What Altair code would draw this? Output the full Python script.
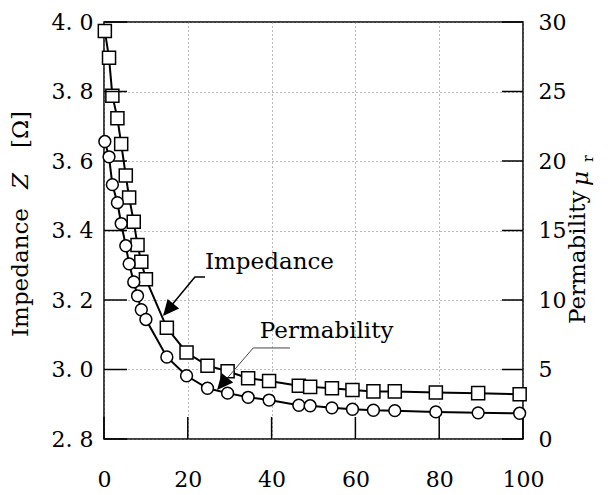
import altair as alt
import pandas as pd

# ---- data ----
x_vals = [0.2, 1.2, 2.0, 3.2, 4.1, 5.2, 6.0, 7.1, 8.0, 8.9, 10.0, 15.0, 19.7, 24.7,
          29.5, 34.4, 39.4, 46.5, 49.2, 54.4, 59.3, 64.3, 69.4, 79.2, 89.3, 99.2]
impedance = [3.974, 3.897, 3.788, 3.723, 3.649, 3.558, 3.495, 3.425, 3.358, 3.310,
             3.260, 3.120, 3.049, 3.011, 2.995, 2.975, 2.967, 2.953, 2.950, 2.946,
             2.941, 2.937, 2.937, 2.934, 2.932, 2.929]
permeability = [21.4, 20.3, 18.3, 17.0, 15.5, 13.9, 12.6, 11.3, 10.3, 9.3, 8.6, 5.9,
                4.55, 3.65, 3.3, 3.0, 2.8, 2.43, 2.39, 2.24, 2.14, 2.07, 2.04, 1.95,
                1.88, 1.85]

z_ticks = [2.8, 3.0, 3.2, 3.4, 3.6, 3.8, 4.0]
mu_ticks = [0, 5, 10, 15, 20, 25, 30]
x_ticks = [0, 20, 40, 60, 80, 100]

# annotations (data coordinates on the impedance scale)
ann_labels = ["Impedance", "Permability"]
ann_x = [24.1, 37.2]
ann_z = [3.289, 3.091]
imp_leader_x = [24.1, 21.7, 14.3]
imp_leader_z = [3.266, 3.266, 3.158]
per_leader_x = [44.4, 35.6, 27.2]
per_leader_z = [3.062, 3.062, 2.944]
arrow_x = [14.1, 27.0]
arrow_z = [3.154, 2.941]

# ---- layout / style ----
W, H = 419, 417
FONT = "DejaVu Serif"
ARROW = "M0,0L-0.47,-1L0.47,-1Z"

df = pd.DataFrame({"x": x_vals, "Z": impedance, "mu": permeability})

xscale = alt.Scale(domain=[0, 100], nice=False, zero=False)
zscale = alt.Scale(domain=[2.8, 4.0], nice=False, zero=False)
muscale = alt.Scale(domain=[0, 30], nice=False, zero=False)

x_axis = alt.Axis(values=x_ticks, format="d", tickSize=0, domain=False, grid=True,
                  gridColor="#777", gridDash=[1, 3], gridWidth=1,
                  labelFont=FONT, labelFontSize=22, labelColor="black",
                  labelPadding=30, labelFlush=False, labelOverlap=False, title=None)
z_axis = alt.Axis(values=z_ticks, orient="left", tickSize=0, domain=False, grid=True,
                  gridColor="#777", gridDash=[1, 3], gridWidth=1,
                  labelExpr="replace(format(datum.value, '.1f'), '.', '. ')",
                  labelFont=FONT, labelFontSize=22, labelColor="black",
                  labelPadding=11, labelOverlap=False, title=None)
mu_axis = alt.Axis(values=mu_ticks, orient="right", tickSize=0, domain=False, grid=False,
                   format="d", labelFont=FONT, labelFontSize=22, labelColor="black",
                   labelPadding=15, labelOverlap=False, title=None)

X = alt.X("x:Q", scale=xscale, axis=x_axis)
YZ = alt.Y("Z:Q", scale=zscale, axis=z_axis)
YM = alt.Y("mu:Q", scale=muscale, axis=mu_axis)

# impedance series
z_line = alt.Chart(df).mark_line(color="black", strokeWidth=2).encode(x=X, y=YZ)
z_pts = alt.Chart(df).mark_point(shape="square", size=170, filled=True, fill="white",
                                 stroke="black", strokeWidth=1.5, opacity=1).encode(x=X, y=YZ)

# inward ticks
z_tick_df = pd.DataFrame({"Z": z_ticks})
z_tick_rules = alt.Chart(z_tick_df).mark_rule(color="black", strokeWidth=1.5).encode(
    y=YZ, x=alt.value(0), x2=alt.value(23))
x_tick_df = pd.DataFrame({"x": x_ticks})
x_tick_rules = alt.Chart(x_tick_df).mark_rule(color="black", strokeWidth=1.5).encode(
    x=X, y=alt.value(H), y2=alt.value(H - 22))

# annotations
ann_df = pd.DataFrame({"x": ann_x, "Z": ann_z, "label": ann_labels})
ann_text = alt.Chart(ann_df).mark_text(font=FONT, fontSize=23, align="left",
                                       baseline="alphabetic", color="black").encode(
    x=X, y=YZ, text="label:N")
imp_leader_df = pd.DataFrame({"x": imp_leader_x, "Z": imp_leader_z, "o": [0, 1, 2]})
imp_leader = alt.Chart(imp_leader_df).mark_line(color="black", strokeWidth=1.5).encode(
    x=X, y=YZ, order="o:Q")
per_leader_df = pd.DataFrame({"x": per_leader_x, "Z": per_leader_z, "o": [0, 1, 2]})
per_leader = alt.Chart(per_leader_df).mark_line(color="#444", strokeWidth=1).encode(
    x=X, y=YZ, order="o:Q")
arrow_df = pd.DataFrame({"x": arrow_x, "Z": arrow_z})
arrows = alt.Chart(arrow_df).mark_point(shape=ARROW, size=1024, filled=True, color="black",
                                        angle=40, opacity=1, strokeWidth=0).encode(x=X, y=YZ)

# axis titles (text with italic parts)
one = pd.DataFrame({"a": [0]})
def title_piece(txt, px, py, size=23, style="normal"):
    return alt.Chart(one).mark_text(text=txt, angle=270, align="left", baseline="middle",
                                    font=FONT, fontSize=size, fontStyle=style,
                                    color="black").encode(x=alt.value(px), y=alt.value(py))

left_title = alt.layer(
    title_piece("Impedance", -83, 315),
    title_piece("Z", -83, 167, style="italic"),
    title_piece("[Ω]", -83, 126),
)
right_title = alt.layer(
    title_piece("Permability", 474, 302),
    title_piece("μ", 477, 164, style="italic"),
    title_piece("r", 485, 140, size=14),
)

left_group = alt.layer(z_line, z_pts, z_tick_rules, x_tick_rules,
                       imp_leader, per_leader, arrows, ann_text)

# permeability series
mu_line = alt.Chart(df).mark_line(color="black", strokeWidth=2).encode(x=X, y=YM)
mu_pts = alt.Chart(df).mark_point(shape="circle", size=140, filled=True, fill="white",
                                  stroke="black", strokeWidth=1.5, opacity=1).encode(x=X, y=YM)
mu_tick_df = pd.DataFrame({"mu": mu_ticks})
mu_tick_rules = alt.Chart(mu_tick_df).mark_rule(color="black", strokeWidth=1.5).encode(
    y=YM, x=alt.value(W - 21), x2=alt.value(W))
right_group = alt.layer(mu_line, mu_pts, mu_tick_rules)

chart = alt.layer(left_group, right_group, left_title, right_title).resolve_scale(
    y="independent"
).properties(
    width=W, height=H,
    padding={"left": 96, "top": 14, "right": 76, "bottom": 56},
    autosize=alt.AutoSizeParams(type="none"),
    background="white",
).configure_view(stroke="black", strokeWidth=1.5)

chart.save("out.html", embed_options={"renderer": "svg", "actions": False})
